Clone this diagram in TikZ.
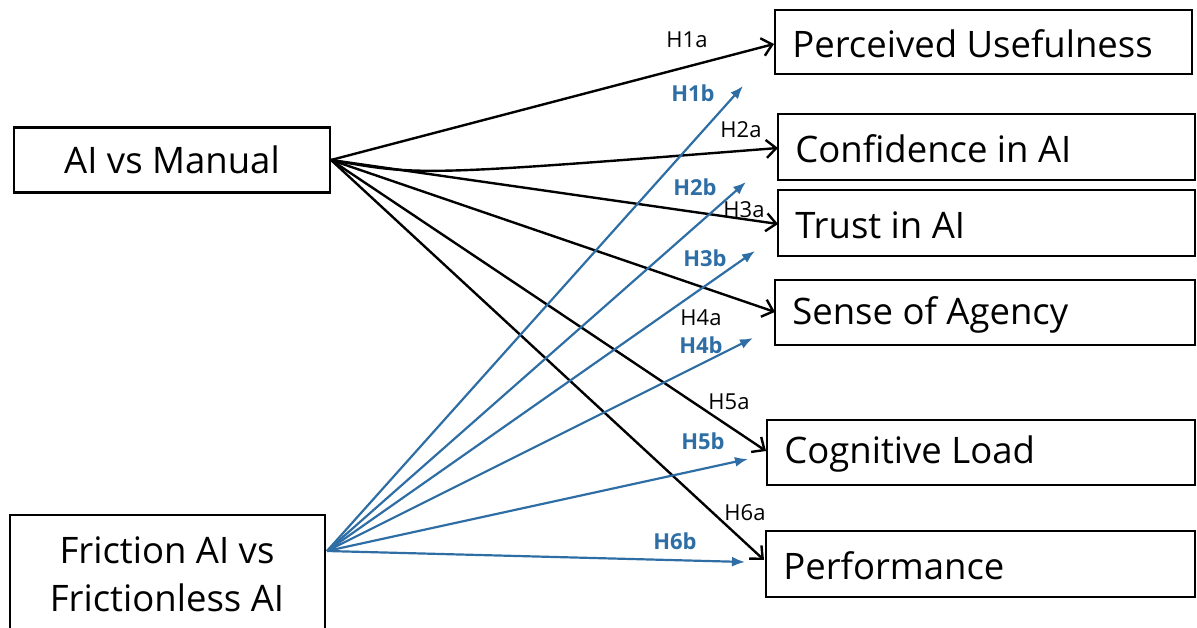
\documentclass[tikz,border=0pt]{standalone}
\usepackage{fontspec}
\setmainfont{Open Sans}
\usetikzlibrary{arrows.meta}
\definecolor{hblue}{RGB}{46,110,165}
\tikzset{
  box/.style={draw=black, line width=2.6pt, inner sep=0pt, font=\fontsize{36.5}{42}\selectfont},
  blk/.style={draw=black, line width=2.4pt, -{Straight Barb[length=10pt,width=18pt]}},
  blu/.style={draw=hblue, line width=2.2pt, -{Latex[length=13pt,width=10pt]}},
  lab/.style={font=\fontsize{22}{26}\selectfont, inner sep=0pt},
  blab/.style={lab, text=hblue, font=\fontsize{22}{26}\selectfont\bfseries},
}
% outcome box: frame plus left-aligned label
\newcommand{\outbox}[6]{%
  \draw[line width=2.6pt] (#2,#3) rectangle (#4,#5);
  \node[box, draw=none, anchor=west] (#1) at (#2+16,{(#3+#5)/2+2}) {#6};}
\begin{document}
\begin{tikzpicture}[x=1pt,y=-1pt]
\useasboundingbox (0,0) rectangle (1197,628);

% source boxes
\node[box, minimum width=316pt, minimum height=65pt] (am) at (172,160) {AI vs Manual};
\draw[line width=2.6pt] (10,660) |- (325,515) -- (325,660);
\node[box, draw=none, align=center, font=\fontsize{36.5}{48}\selectfont] (fr) at (167,574) {Friction AI vs\\Frictionless AI};
\coordinate (amo) at (331,160);
\coordinate (fro) at (327,551);

\outbox{pu}{775}{10}{1192}{74}{Perceived Usefulness}
\outbox{ci}{778}{114}{1195}{180}{Confidence in AI}
\outbox{ti}{778}{190}{1195}{256}{Trust in AI}
\outbox{sa}{775}{280}{1195}{345}{Sense of Agency}
\outbox{cl}{767}{420}{1195}{485}{Cognitive Load}
\outbox{pf}{766}{531}{1195}{597}{Performance}

% arrow tips
\coordinate (t1a) at (774,44);
\coordinate (t2a) at (778,148);
\coordinate (t3a) at (778,224);
\coordinate (t4a) at (775,312);
\coordinate (t5a) at (766,451);
\coordinate (t6a) at (764,560);
\coordinate (t1b) at (743,86);
\coordinate (t2b) at (746,182);
\coordinate (t3b) at (755,251);
\coordinate (t4b) at (753,338);
\coordinate (t5b) at (748,459);
\coordinate (t6b) at (745,562);

% effects of AI vs Manual
\draw[blk] (amo) -- (t1a);
\draw[blk] (amo) .. controls (420,176) .. (t2a);
\draw[blk] (amo) -- (t3a);
\draw[blk] (amo) -- (t4a);
\draw[blk] (amo) -- (t5a);
\draw[blk] (amo) -- (t6a);

% effects of Friction AI vs Frictionless AI
\draw[blu] (fro) -- (t1b);
\draw[blu] (fro) -- (t2b);
\draw[blu] (fro) -- (t3b);
\draw[blu] (fro) -- (t4b);
\draw[blu] (fro) -- (t5b);
\draw[blu] (fro) -- (t6b);

% hypothesis labels
\node[lab] (h1a) at (687,40) {H1a};
\node[lab] (h2a) at (741,130) {H2a};
\node[lab] (h3a) at (744,210) {H3a};
\node[lab] (h4a) at (701,318) {H4a};
\node[lab] (h5a) at (729,402) {H5a};
\node[lab] (h6a) at (745,513) {H6a};
\node[blab] (h1b) at (693,93) {H1b};
\node[blab] (h2b) at (695,187) {H2b};
\node[blab] (h3b) at (705,258) {H3b};
\node[blab] (h4b) at (701,345) {H4b};
\node[blab] (h5b) at (703,441) {H5b};
\node[blab] (h6b) at (675,541) {H6b};
\end{tikzpicture}
\end{document}
